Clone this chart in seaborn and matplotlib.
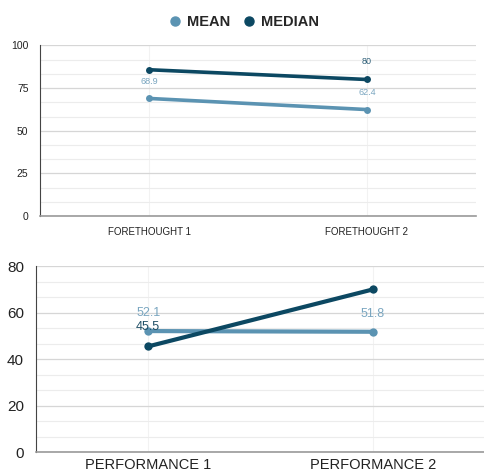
import matplotlib
matplotlib.use('Agg')

import pandas as pd
import matplotlib.pyplot as plt
import seaborn as sns
from matplotlib.ticker import MultipleLocator
from matplotlib.lines import Line2D

# Chart values
series = ["MEAN", "MEDIAN"]
forethought_labels = ["FORETHOUGHT 1", "FORETHOUGHT 2"]
forethought_mean = [68.9, 62.4]
forethought_median = [85.7, 80]
performance_labels = ["PERFORMANCE 1", "PERFORMANCE 2"]
performance_mean = [52.1, 51.8]
performance_median = [45.5, 70]

colors = {"MEAN": "#5b93b2", "MEDIAN": "#0c4862"}


def make_frame(labels, mean, median):
    rows = []
    for i, lab in enumerate(labels):
        rows.append({"x": i, "label": lab, "series": "MEAN", "value": mean[i]})
        rows.append({"x": i, "label": lab, "series": "MEDIAN", "value": median[i]})
    return pd.DataFrame(rows)


def style_axis(ax, labels, ymax, major, minor, ysize, xsize, xpad):
    ax.set_xlim(-0.5, 1.5)
    ax.set_ylim(0, ymax)
    ax.set_xticks([0, 1])
    ax.set_xticklabels(labels, fontsize=xsize, color="#222222")
    ax.yaxis.set_major_locator(MultipleLocator(major))
    ax.yaxis.set_minor_locator(MultipleLocator(minor))
    ax.tick_params(axis='y', which='major', labelsize=ysize, length=5,
                   color="#333333", labelcolor="#222222")
    ax.tick_params(axis='y', which='minor', length=3, color="#333333")
    ax.tick_params(axis='x', length=0, pad=xpad)
    ax.grid(axis='y', which='major', color="#d6d6d6", lw=0.9)
    ax.grid(axis='y', which='minor', color="#ececec", lw=0.8)
    ax.grid(axis='x', which='major', color="#f2f2f2", lw=0.8)
    ax.set_axisbelow(True)
    for s in ["top", "right"]:
        ax.spines[s].set_visible(False)
    ax.spines["left"].set_color("#444444")
    ax.spines["bottom"].set_color("#999999")
    ax.spines["bottom"].set_linewidth(1.2)
    ax.set_xlabel("")
    ax.set_ylabel("")


sns.set_style("white")
plt.rcParams['font.family'] = ['Liberation Sans', 'DejaVu Sans']

fig = plt.figure(figsize=(4.85, 4.72), dpi=100)
ax1 = fig.add_axes([0.083, 0.542, 0.898, 0.362])
ax2 = fig.add_axes([0.074, 0.042, 0.926, 0.394])

# top chart
df1 = make_frame(forethought_labels, forethought_mean, forethought_median)
sns.lineplot(data=df1, x="x", y="value", hue="series", palette=colors,
             marker="o", markersize=5, markeredgewidth=0, linewidth=2.6,
             legend=False, ax=ax1)
style_axis(ax1, forethought_labels, 100, 25, 25 / 3, 7.5, 7, 8)
ax1.text(0, forethought_mean[0] + 10, "68.9", ha='center', va='center',
         fontsize=6.5, color="#7aa6c0")
ax1.text(1, forethought_mean[1] + 10, "62.4", ha='center', va='center',
         fontsize=6.5, color="#7aa6c0")
ax1.text(1, forethought_median[1] + 10.5, "80", ha='center', va='center',
         fontsize=6.5, color="#2e5f78")

# bottom chart
df2 = make_frame(performance_labels, performance_mean, performance_median)
sns.lineplot(data=df2, x="x", y="value", hue="series", palette=colors,
             marker="o", markersize=6, markeredgewidth=0, linewidth=3,
             legend=False, ax=ax2)
style_axis(ax2, performance_labels, 80, 20, 20 / 3, 11, 10.5, 4)
ax2.text(0, performance_mean[0] + 7.7, "52.1", ha='center', va='center',
         fontsize=9, color="#7aa6c0")
ax2.text(1, performance_mean[1] + 7.7, "51.8", ha='center', va='center',
         fontsize=9, color="#7aa6c0")
ax2.text(0, performance_median[0] + 8.2, "45.5", ha='center', va='center',
         fontsize=9, color="#1f4f66")

# legend at top
handles = [Line2D([], [], marker='o', ls='', markersize=6.5, color=colors[s])
           for s in series]
leg = fig.legend(handles, series, loc='upper center', bbox_to_anchor=(0.5, 0.995),
                 ncol=2, frameon=False, handletextpad=0.2, columnspacing=0.7,
                 handlelength=1.2,
                 prop={'family': ['Liberation Sans'],
                       'weight': 'bold', 'size': 10.5})

fig.savefig("out.png", dpi=100)
